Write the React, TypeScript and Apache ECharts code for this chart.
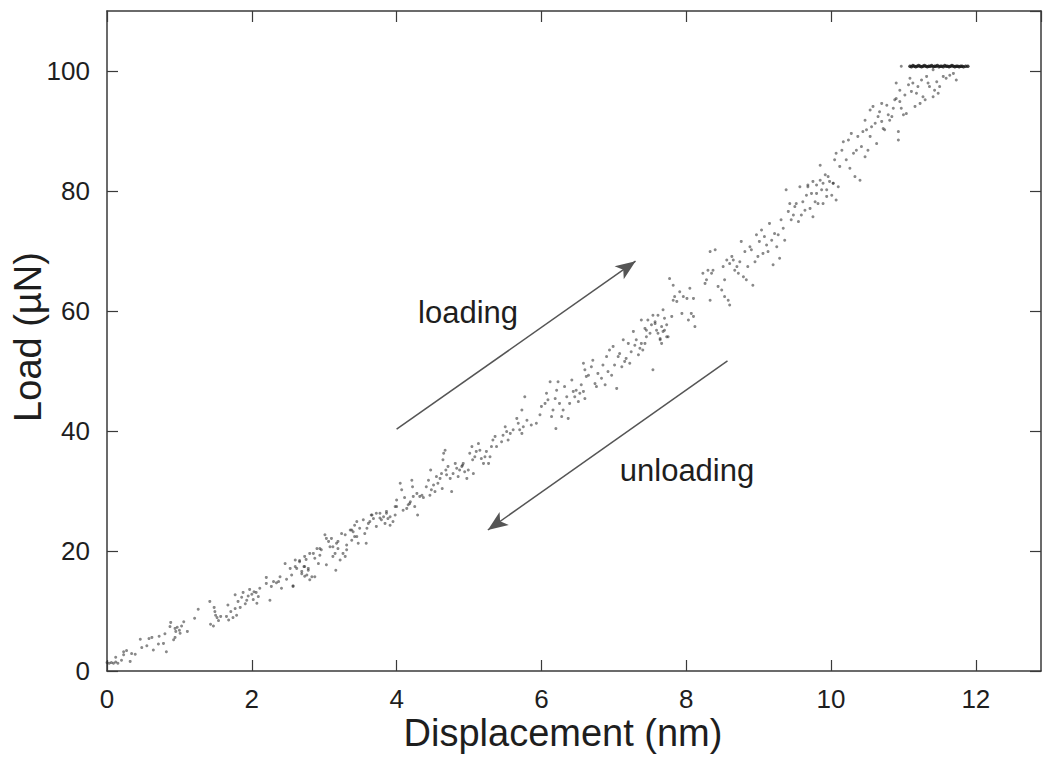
import React, { useEffect, useRef } from "react";
import * as echarts from "echarts";

const FONT = '"Liberation Sans", Arial, Helvetica, sans-serif';

// Axis tick values
const xTicks = [0, 2, 4, 6, 8, 10, 12];
const yTicks = [0, 20, 40, 60, 80, 100];

// Initial contact points (displacement nm, load µN)
const contact: number[][] = [
  [0.0, 1.4], [0.03, 1.3], [0.06, 1.4], [0.09, 1.3], [0.12, 1.5], [0.15, 1.3],
];

const band0to3: number[][] = [
  [0.12, 2.3], [0.23, 2.7], [0.23, 3.2], [0.27, 3.4], [0.34, 2.9], [0.39, 2.8], [0.32, 1.6], [0.2, 1.8],
  [0.46, 5.3], [0.48, 3.9], [0.55, 4.2], [0.58, 5.4], [0.62, 5.6], [0.64, 3.5], [0.71, 4.5], [0.72, 5.8],
  [0.78, 4.6], [0.8, 6.2], [0.82, 3.2], [0.87, 7.4], [0.88, 8.1], [0.94, 7.1], [0.95, 6.6], [0.97, 7.3],
  [1.0, 6.8], [1.01, 6.3], [1.03, 7.5], [1.06, 8.2], [1.11, 6.6], [0.94, 5.6], [0.92, 5.2], [1.21, 8.8],
  [1.26, 10.3], [1.42, 11.6], [1.43, 7.8], [1.47, 7.5], [1.48, 10.6], [1.49, 9.9], [1.5, 9.3], [1.52, 8.9],
  [1.54, 8.4], [1.57, 9.1], [1.65, 9.1], [1.67, 11.0], [1.68, 8.5], [1.71, 9.9], [1.74, 8.9], [1.77, 10.4],
  [1.79, 9.3], [1.77, 12.7], [1.81, 11.6], [1.84, 10.6], [1.86, 12.3], [1.88, 13.1], [1.91, 11.2], [1.93, 11.8],
  [1.95, 12.5], [1.97, 13.6], [2.0, 12.8], [2.02, 11.9], [2.03, 13.2], [2.06, 13.1], [2.07, 11.3], [2.09, 12.4],
  [2.11, 13.8], [2.2, 14.6], [2.2, 15.6], [2.25, 11.8], [2.27, 14.1], [2.3, 14.9], [2.34, 14.7], [2.37, 14.9],
  [2.39, 15.7], [2.41, 13.8], [2.46, 17.9], [2.48, 15.3], [2.55, 16.0], [2.57, 14.2], [2.62, 17.1], [2.66, 18.4],
  [2.69, 16.2], [2.72, 17.4], [2.73, 15.8], [2.75, 18.6], [2.78, 16.8],
];

const band3to4: number[][] = [
  [2.85, 19.6], [2.87, 18.8], [2.9, 20.4], [2.92, 17.9], [2.94, 19.3], [2.96, 20.2], [3.01, 22.7], [3.03, 17.7],
  [3.06, 21.6], [3.08, 20.7], [3.1, 22.1], [3.12, 19.1], [3.15, 19.6], [3.16, 16.8], [3.17, 21.3], [3.19, 20.4],
  [3.22, 18.5], [3.24, 22.9], [3.26, 19.6], [3.29, 19.1], [3.31, 21.0], [3.36, 23.5], [3.38, 21.8], [3.4, 23.2],
  [3.42, 24.3], [3.45, 22.4], [3.47, 21.3], [3.49, 23.8], [3.54, 25.2], [3.56, 22.9], [3.58, 21.3], [3.59, 23.8],
  [3.63, 24.9], [3.66, 26.0], [3.68, 25.4], [3.72, 24.1], [3.77, 26.3], [3.79, 25.2], [3.82, 25.7], [3.84, 24.6],
  [3.86, 26.3], [3.88, 25.4], [3.91, 24.3], [3.95, 24.9], [3.98, 26.0], [4.0, 27.4], [2.66, 18.2], [2.69, 16.6],
  [2.73, 17.4], [2.76, 16.0], [2.78, 17.1], [2.8, 15.2], [2.83, 15.7], [2.57, 14.1], [2.6, 18.5], [2.53, 17.1],
  [2.6, 17.4], [2.73, 19.1], [2.8, 19.6], [2.94, 20.4], [3.03, 22.1], [3.19, 21.6], [3.29, 22.7], [3.38, 23.5],
  [3.45, 24.9], [3.61, 24.6], [3.65, 26.0], [3.72, 26.3], [3.86, 26.6], [3.91, 25.7], [3.98, 27.4], [4.0, 28.5],
  [2.87, 15.7], [3.12, 20.7], [3.31, 20.2], [3.42, 22.4], [3.77, 25.5],
];

const band4to5: number[][] = [
  [4.05, 31.3], [4.07, 30.2], [4.09, 26.8], [4.11, 28.9], [4.14, 27.1], [4.16, 27.7], [4.18, 27.9], [4.19, 28.2],
  [4.21, 31.8], [4.22, 30.7], [4.23, 29.1], [4.25, 27.4], [4.28, 29.6], [4.29, 26.0], [4.32, 29.1], [4.35, 29.3],
  [4.37, 28.9], [4.41, 30.7], [4.44, 31.8], [4.46, 29.3], [4.47, 33.5], [4.48, 30.2], [4.51, 31.0], [4.53, 29.9],
  [4.55, 32.4], [4.57, 31.3], [4.6, 32.1], [4.62, 32.9], [4.63, 30.4], [4.64, 35.2], [4.65, 36.3], [4.67, 36.8],
  [4.68, 33.5], [4.69, 32.7], [4.71, 34.1], [4.74, 32.1], [4.76, 29.9], [4.78, 32.9], [4.81, 34.6], [4.83, 33.8],
  [4.85, 32.4], [4.87, 33.5], [4.9, 34.1], [4.91, 34.3], [4.92, 34.6], [4.94, 33.2], [4.97, 32.1], [4.99, 33.5],
  [5.01, 36.3], [5.04, 37.4], [5.05, 35.2], [5.06, 32.9], [5.08, 35.7], [5.1, 36.6], [5.13, 37.9], [5.15, 36.8],
  [5.17, 35.4], [5.2, 34.6], [5.22, 35.7], [5.24, 36.6], [5.27, 34.6],
];

const band5to8: number[][] = [
  [5.29, 35.7], [5.31, 37.4], [5.33, 38.5], [5.36, 39.1], [5.38, 37.4], [5.45, 38.2], [5.47, 39.3], [5.5, 40.7],
  [5.52, 39.9], [5.54, 38.5], [5.57, 39.6], [5.61, 40.2], [5.66, 42.1], [5.68, 41.3], [5.7, 40.2], [5.73, 39.6],
  [5.75, 40.7], [5.73, 43.5], [5.77, 45.7], [5.8, 41.8], [5.86, 41.0], [5.93, 41.3], [5.98, 42.7], [6.0, 44.1],
  [6.05, 44.6], [6.07, 46.3], [6.09, 45.2], [6.12, 48.2], [6.14, 42.4], [6.16, 43.5], [6.19, 45.4], [6.2, 40.4],
  [6.21, 46.8], [6.23, 48.2], [6.25, 44.6], [6.28, 42.4], [6.3, 43.5], [6.32, 47.4], [6.35, 45.7], [6.37, 42.1],
  [6.39, 44.6], [6.42, 48.5], [6.44, 46.6], [6.46, 45.7], [6.48, 46.8], [6.51, 44.9], [6.53, 46.3], [6.55, 47.7],
  [6.58, 46.6], [6.6, 45.4], [6.58, 51.3], [6.6, 50.2], [6.62, 49.1], [6.65, 49.3], [6.69, 50.7], [6.71, 51.8],
  [6.74, 47.9], [6.76, 47.4], [6.78, 49.6], [6.83, 48.8], [6.85, 51.0], [6.88, 47.7], [6.9, 52.4], [6.92, 49.9],
  [6.94, 53.5], [6.97, 49.3], [6.99, 54.1], [7.01, 51.0], [7.04, 47.1], [7.06, 52.4], [7.08, 52.9], [7.11, 50.7],
  [7.13, 55.2], [7.15, 51.6], [7.17, 52.1], [7.2, 54.6], [7.22, 51.3], [7.24, 53.2], [7.27, 56.6], [7.29, 54.3],
  [7.31, 55.2], [7.34, 52.7], [7.36, 53.8], [7.38, 54.6], [7.4, 53.5], [7.43, 57.1], [7.45, 55.7], [7.47, 58.5],
  [7.5, 56.3], [7.52, 57.7], [7.54, 50.2], [7.57, 57.9], [7.59, 56.8], [7.61, 59.3], [7.64, 55.4], [7.66, 54.6],
  [7.68, 56.6], [7.7, 58.8], [7.73, 57.7], [7.75, 55.7], [7.38, 58.5], [7.43, 54.6], [7.45, 56.8], [7.54, 59.3],
  [7.57, 58.2], [7.61, 56.3], [7.64, 55.2], [7.66, 57.4], [7.68, 60.2], [7.7, 56.8], [7.73, 55.7],
];

const band8to10: number[][] = [
  [7.77, 65.4], [7.8, 59.1], [7.82, 64.3], [7.82, 61.8], [7.84, 62.4], [7.87, 61.6], [7.91, 63.2], [7.94, 59.6],
  [7.96, 62.4], [8.01, 62.1], [8.03, 58.5], [8.05, 63.8], [8.07, 59.6], [8.1, 59.1], [8.1, 62.1], [8.12, 57.4],
  [8.23, 66.3], [8.26, 64.6], [8.28, 65.2], [8.3, 66.8], [8.33, 69.9], [8.33, 61.8], [8.35, 66.3], [8.37, 66.8],
  [8.4, 70.2], [8.44, 64.1], [8.49, 63.5], [8.51, 67.4], [8.53, 65.2], [8.53, 62.4], [8.56, 68.5], [8.58, 61.8],
  [8.6, 67.9], [8.6, 61.0], [8.63, 69.1], [8.65, 68.5], [8.67, 66.8], [8.7, 67.4], [8.72, 66.3], [8.74, 68.2],
  [8.76, 71.6], [8.79, 65.7], [8.81, 69.9], [8.83, 65.2], [8.85, 67.4], [8.88, 70.7], [8.9, 70.2], [8.92, 64.3],
  [8.95, 68.2], [8.97, 72.7], [8.99, 69.1], [9.01, 71.6], [9.04, 73.5], [9.06, 69.6], [9.08, 72.4], [9.11, 71.0],
  [9.13, 69.9], [9.15, 74.6], [9.18, 71.8], [9.2, 67.7], [9.22, 72.9], [9.25, 70.7], [9.27, 72.7], [9.29, 68.8],
  [9.31, 75.2], [9.34, 73.8], [9.36, 71.8], [9.38, 80.2], [9.41, 76.6], [9.43, 77.9], [9.45, 75.2], [9.48, 76.0],
  [9.5, 77.4], [9.52, 77.9], [9.55, 74.9], [9.57, 80.7], [9.59, 76.0], [9.61, 78.2], [9.64, 76.8], [9.66, 79.3],
  [9.68, 81.0], [9.71, 77.1], [9.73, 79.6], [9.75, 75.7], [9.78, 78.2], [9.8, 81.0], [9.82, 77.9], [9.85, 81.8],
  [9.87, 80.2], [9.89, 77.9], [9.92, 82.7], [9.94, 79.1], [9.96, 82.4], [9.98, 81.6], [10.01, 79.3], [10.03, 81.3],
  [10.07, 78.5], [10.1, 80.7], [9.68, 80.7], [9.75, 81.6], [9.8, 79.6], [9.85, 84.3], [9.89, 81.3], [9.94, 80.2],
  [10.03, 81.3], [10.05, 85.2], [10.07, 86.3],
];

const band10to12: number[][] = [
  [10.12, 84.1], [10.15, 86.8], [10.17, 88.2], [10.21, 85.2], [10.24, 88.5], [10.26, 83.8], [10.28, 89.6], [10.31, 86.3],
  [10.33, 82.4], [10.35, 86.8], [10.37, 89.1], [10.4, 81.8], [10.42, 87.4], [10.44, 89.9], [10.47, 85.7], [10.47, 91.8],
  [10.49, 90.2], [10.51, 86.8], [10.54, 89.1], [10.54, 93.5], [10.56, 90.7], [10.58, 94.1], [10.61, 91.3], [10.63, 87.9],
  [10.65, 92.4], [10.67, 93.2], [10.7, 91.6], [10.7, 94.6], [10.72, 90.4], [10.74, 90.2], [10.77, 94.3], [10.79, 92.7],
  [10.81, 91.8], [10.84, 92.4], [10.86, 93.8], [10.88, 95.2], [10.9, 95.4], [10.9, 98.0], [10.93, 89.9], [10.93, 88.5],
  [10.95, 96.8], [10.95, 94.9], [10.97, 93.8], [11.0, 92.7], [11.02, 96.0], [11.04, 92.9], [11.07, 97.7], [11.09, 98.8],
  [11.11, 96.6], [11.13, 98.0], [11.16, 94.1], [11.18, 96.3], [11.2, 97.4], [11.23, 94.6], [11.25, 98.5], [11.27, 95.7],
  [11.3, 95.2], [11.32, 99.1], [11.34, 98.0], [11.36, 97.4], [11.41, 95.7], [11.43, 96.8], [11.46, 98.2], [11.48, 96.3],
  [11.5, 97.4], [11.55, 99.1], [11.59, 98.8], [11.64, 99.3], [11.69, 99.6], [11.73, 98.5], [10.97, 100.8], [11.41, 100.2],
];

// Hold at peak load (dense dark row)
const hold: number[][] = [
  [11.09, 100.8], [11.11, 100.7], [11.13, 100.9], [11.15, 100.8], [11.17, 100.7], [11.19, 100.8], [11.21, 100.9],
  [11.23, 100.8], [11.25, 100.7], [11.27, 100.8], [11.29, 100.9], [11.31, 100.8], [11.33, 100.7], [11.35, 100.8],
  [11.37, 100.8], [11.39, 100.9], [11.41, 100.7], [11.43, 100.8], [11.45, 100.8], [11.47, 100.9], [11.49, 100.7],
  [11.51, 100.8], [11.53, 100.8], [11.55, 100.7], [11.57, 100.9], [11.59, 100.8], [11.61, 100.8], [11.63, 100.7],
  [11.65, 100.8], [11.67, 100.9], [11.69, 100.8], [11.71, 100.7], [11.73, 100.8], [11.75, 100.8], [11.77, 100.7],
  [11.79, 100.8], [11.81, 100.8], [11.83, 100.7], [11.86, 100.8], [11.89, 100.8],
];

// Arrows (data coordinates)
const loadingArrow = [[4.0, 40.3], [7.3, 68.3]];
const unloadingArrow = [[8.57, 51.7], [5.26, 23.5]];

const scatterPoints = [
  ...contact, ...band0to3, ...band3to4, ...band4to5, ...band5to8, ...band8to10, ...band10to12,
];

export default function App() {
  const ref = useRef<HTMLDivElement>(null);
  useEffect(() => {
    document.body.style.margin = "0";
    const chart = echarts.init(ref.current!, null, { renderer: "svg" });
    const axisColor = "#3a3a3a";
    const xBase = {
      type: "value",
      min: xTicks[0],
      max: 12.9,
      interval: xTicks[1] - xTicks[0],
      splitLine: { show: false },
      axisLine: { show: true, onZero: false, lineStyle: { color: axisColor, width: 1.5 } },
      axisTick: { show: true, inside: true, length: 11, lineStyle: { color: axisColor, width: 1.2 } },
    };
    const yBase = {
      type: "value",
      min: yTicks[0],
      max: 110,
      interval: yTicks[1] - yTicks[0],
      splitLine: { show: false },
      axisLine: { show: true, onZero: false, lineStyle: { color: axisColor, width: 1.5 } },
      axisTick: { show: true, inside: true, length: 11, lineStyle: { color: axisColor, width: 1.2 } },
    };
    chart.setOption({
      animation: false,
      backgroundColor: "#ffffff",
      grid: { left: 107, right: 2, top: 11, bottom: 90, outerBoundsMode: "none", containLabel: false },
      xAxis: [
        {
          ...xBase,
          position: "bottom",
          axisLabel: { fontSize: 26, color: "#1e1e1e", fontFamily: FONT, margin: 15, showMaxLabel: false },
        },
        { ...xBase, position: "top", axisLabel: { show: false } },
      ],
      yAxis: [
        {
          ...yBase,
          position: "left",
          axisLabel: { fontSize: 26, color: "#1e1e1e", fontFamily: FONT, margin: 17, showMaxLabel: false },
        },
        { ...yBase, position: "right", axisLabel: { show: false } },
      ],
      series: [
        {
          type: "scatter",
          xAxisIndex: 0,
          yAxisIndex: 0,
          data: scatterPoints,
          symbol: "circle",
          symbolSize: 3,
          itemStyle: { color: "rgba(45,45,45,0.7)" },
          silent: true,
          markLine: {
            silent: true,
            symbol: ["none", "arrow"],
            symbolSize: [12, 20],
            label: { show: false },
            lineStyle: { color: "#555555", width: 1.5, type: "solid" },
            data: [
              [{ coord: loadingArrow[0] }, { coord: loadingArrow[1] }],
              [{ coord: unloadingArrow[0] }, { coord: unloadingArrow[1] }],
            ],
          },
        },
        {
          type: "scatter",
          xAxisIndex: 0,
          yAxisIndex: 0,
          data: hold,
          symbol: "circle",
          symbolSize: 3.5,
          itemStyle: { color: "#151515" },
          silent: true,
        },
      ],
      graphic: [
        {
          type: "text",
          x: 468,
          y: 312,
          style: { text: "loading", fontSize: 31, fontFamily: FONT, fill: "#1e1e1e", align: "center", verticalAlign: "middle" },
        },
        {
          type: "text",
          x: 687,
          y: 470,
          style: { text: "unloading", fontSize: 31, fontFamily: FONT, fill: "#1e1e1e", align: "center", verticalAlign: "middle" },
        },
        {
          type: "text",
          x: 563,
          y: 733,
          style: { text: "Displacement (nm)", fontSize: 38, fontFamily: FONT, fill: "#1e1e1e", align: "center", verticalAlign: "middle" },
        },
        {
          type: "text",
          x: 28,
          y: 337,
          rotation: Math.PI / 2,
          style: { text: "Load (µN)", fontSize: 38, fontFamily: FONT, fill: "#1e1e1e", align: "center", verticalAlign: "middle" },
        },
      ],
    });
    return () => chart.dispose();
  }, []);
  return <div ref={ref} style={{ width: 1043, height: 761 }} />;
}
